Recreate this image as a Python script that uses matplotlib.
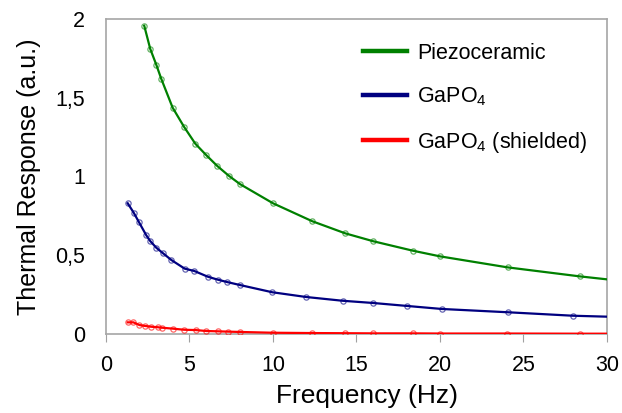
import numpy as np
import matplotlib.pyplot as plt
from matplotlib.ticker import FuncFormatter

plt.rcParams['font.family'] = ['Liberation Sans', 'DejaVu Sans']
plt.rcParams['mathtext.default'] = 'regular'

# Piezoceramic
piezo_f = [2.29, 2.65, 3.01, 3.31, 3.99, 4.67, 5.35, 5.99, 6.66, 7.35, 8.02,
           10.0, 12.35, 14.33, 16.0, 18.37, 20.0, 24.05, 28.36]
piezo_r = [1.957, 1.81, 1.71, 1.62, 1.437, 1.316, 1.208, 1.137, 1.067, 1.005, 0.952,
           0.83, 0.716, 0.639, 0.589, 0.529, 0.493, 0.423, 0.366]
piezo_end = 0.347

# GaPO4
gapo_f = [1.30, 1.66, 1.98, 2.41, 2.65, 3.01, 3.40, 3.91, 4.71, 5.29, 6.09,
          6.69, 7.25, 8.02, 9.96, 11.98, 14.17, 15.99, 18.04, 20.1, 24.07, 27.96]
gapo_r = [0.83, 0.77, 0.709, 0.627, 0.59, 0.548, 0.514, 0.47, 0.415, 0.40, 0.364,
          0.345, 0.33, 0.311, 0.265, 0.235, 0.211, 0.197, 0.178, 0.159, 0.138, 0.116]
gapo_end = 0.11

# GaPO4 (shielded)
shield_f = [1.30, 1.64, 2.0, 2.35, 2.71, 3.1, 3.35, 4.0, 4.67, 5.37, 6.0,
            6.69, 7.32, 8.02, 10.0, 12.35, 14.3, 16.0, 18.4, 20.0, 24.0, 28.4]
shield_r = [0.074, 0.074, 0.057, 0.051, 0.046, 0.043, 0.04, 0.034, 0.027, 0.025, 0.019,
            0.017, 0.015, 0.013, 0.008, 0.006, 0.005, 0.004, 0.004, 0.003, 0.003, 0.002]
shield_end = 0.002

series = [
    ('Piezoceramic', piezo_f, piezo_r, piezo_end, '#008000'),
    ('GaPO$_4$', gapo_f, gapo_r, gapo_end, '#000080'),
    ('GaPO$_4$ (shielded)', shield_f, shield_r, shield_end, '#ff0000'),
]

fig = plt.figure(figsize=(6.22, 4.13), dpi=100)
ax = fig.add_axes([106 / 622, 1 - 334 / 413, (607 - 106) / 622, (334 - 19) / 413])

for name, f, r, end, c in series:
    ax.plot(f + [30], r + [end], color=c, lw=1.6, label=name, zorder=3)
    ax.plot(f, r, ls='none', marker='o', ms=3.8, mfc='none', mec=c, mew=0.9,
            alpha=0.6, zorder=4)

ax.set_xlim(0, 30)
ax.set_ylim(0, 2)
ax.set_xticks([0, 5, 10, 15, 20, 25, 30])
ax.set_yticks([0, 0.5, 1, 1.5, 2])
ax.yaxis.set_major_formatter(FuncFormatter(lambda v, p: ('%g' % v).replace('.', ',')))
ax.tick_params(axis='x', direction='out', length=6, color='#a0a0a0', labelsize=15.5, pad=9)
ax.tick_params(axis='y', length=0, labelsize=15.5, pad=15)
for s in ax.spines.values():
    s.set_color('#a6a6a6')
    s.set_linewidth(1.2)

ax.set_xlabel('Frequency (Hz)', fontsize=19)
ax.xaxis.set_label_coords(0.52, -0.158)
ax.set_ylabel('Thermal Response (a.u.)', fontsize=18, labelpad=10)

leg = ax.legend(loc='upper left', frameon=False, fontsize=15.5, handlelength=2.05,
                handletextpad=0.45, labelspacing=1.0, borderaxespad=0, borderpad=0,
                bbox_to_anchor=(363 / 622, 1 - 43 / 413), bbox_transform=fig.transFigure)
for line in leg.get_lines():
    line.set_linewidth(3.2)

fig.savefig('out.png', dpi=100)
